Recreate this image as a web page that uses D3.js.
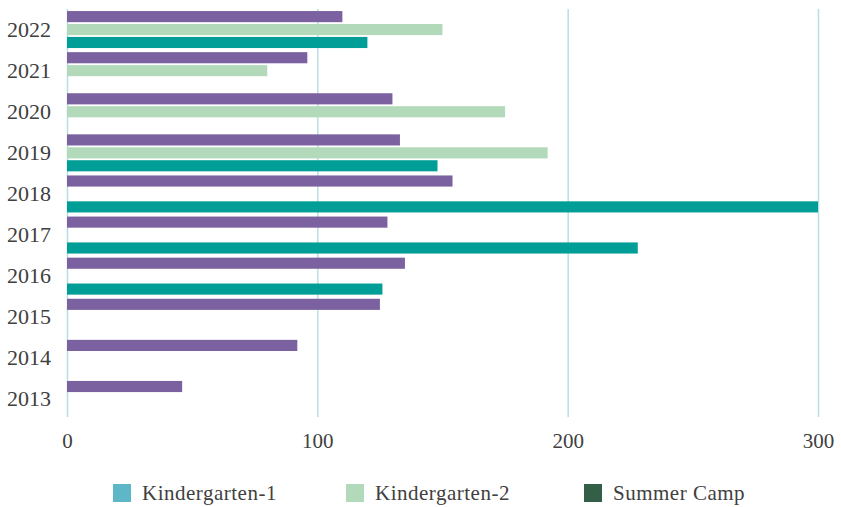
<!DOCTYPE html>
<meta charset="utf-8">
<style>
body { margin: 0; background: #fff; }
text { font-family: "Liberation Serif", serif; fill: #404040; }
.grid line { stroke: #b9dee2; stroke-width: 1.5; }
.axis path { display: none; }
</style>
<body>
<svg id="chart" width="841" height="507"></svg>
<script src="https://d3js.org/d3.v7.min.js"></script>
<script>

// years, top to bottom
var years = ["2022", "2021", "2020", "2019", "2018", "2017", "2016", "2015", "2014", "2013"];
var seriesNames = ["Kindergarten-1", "Kindergarten-2", "Summer Camp"];
var kinder1 = [110, 96, 130, 133, 154, 128, 135, 125, 92, 46];
var kinder2 = [150, 80, 175, 192, null, null, null, null, null, null];
var summerCamp = [120, null, null, 148, 300, 228, 126, null, null, null];
var xTicks = [0, 100, 200, 300];

// bar colours and legend swatch colours differ in the original
var barColors = ["#7b61a0", "#b3d9bb", "#009e96"];
var legendColors = ["#5db7c7", "#b3d9bb", "#335e48"];

var seriesValues = [kinder1, kinder2, summerCamp];
var rows = years.map((y, i) => ({
  year: y,
  values: seriesNames.map((s, j) => ({ key: s, idx: j, value: seriesValues[j][i] }))
}));

var svg = d3.select("#chart");
var margin = { top: 9, right: 23, bottom: 90, left: 67 };
var width = 841, height = 507;
var gridBottom = 417;

var x = d3.scaleLinear().domain([0, 300]).range([margin.left, width - margin.right]);
var y0 = d3.scaleBand().domain(years).range([margin.top, 420])
  .paddingInner(0.1).paddingOuter(0.05);
var y1 = d3.scaleBand().domain(seriesNames).range([0, y0.bandwidth()]).paddingInner(0.14);

// grid + x labels
var xAxis = svg.append("g")
  .attr("class", "axis grid")
  .attr("transform", `translate(0,${gridBottom})`)
  .call(d3.axisBottom(x).tickValues(xTicks)
    .tickSize(-(gridBottom - margin.top)).tickPadding(16));
xAxis.selectAll("text").style("font-size", "21px");

// bars
var group = svg.selectAll(".year")
  .data(rows)
  .enter().append("g")
  .attr("class", "year")
  .attr("transform", d => `translate(0,${y0(d.year)})`);

group.selectAll("rect")
  .data(d => d.values.filter(v => v.value != null))
  .enter().append("rect")
  .attr("x", x(0))
  .attr("y", d => y1(d.key))
  .attr("width", d => x(d.value) - x(0))
  .attr("height", y1.bandwidth())
  .style("fill", d => barColors[d.idx]);

// y labels
var yAxis = svg.append("g")
  .attr("class", "axis")
  .attr("transform", `translate(${margin.left - 16},0)`)
  .call(d3.axisLeft(y0).tickSize(0).tickPadding(0));
yAxis.selectAll("text").style("font-size", "22px");

// legend
var legendX = [113, 346, 584];
var legend = svg.selectAll(".legend")
  .data(seriesNames)
  .enter().append("g")
  .attr("class", "legend")
  .attr("transform", (d, i) => `translate(${legendX[i]},484)`);
legend.append("rect")
  .attr("width", 18).attr("height", 18)
  .style("fill", (d, i) => legendColors[i]);
legend.append("text")
  .attr("x", 29).attr("y", 9)
  .attr("dominant-baseline", "central")
  .style("font-size", "21px")
  .style("letter-spacing", "0.5px")
  .text(d => d);

</script>
</body>
